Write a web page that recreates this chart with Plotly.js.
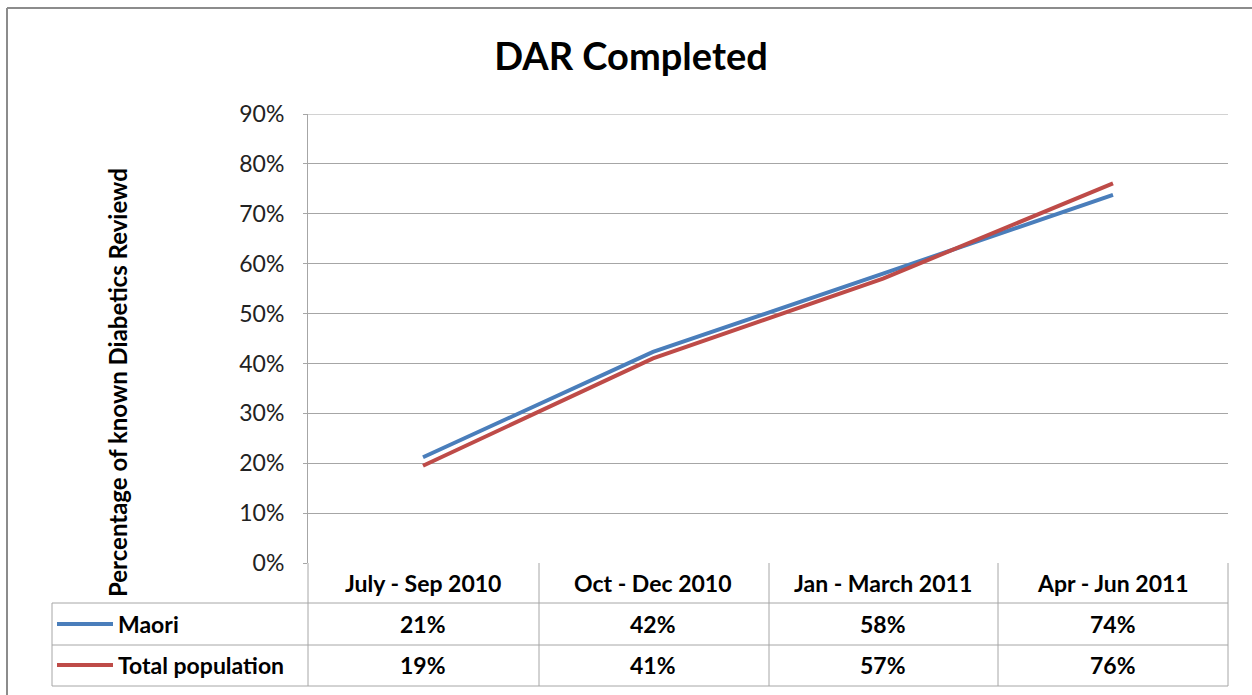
<!DOCTYPE html>
<html>
<head>
<meta charset="utf-8">
<script src="https://cdn.plot.ly/plotly-3.0.1.min.js"></script>
<style>html,body{margin:0;padding:0;background:#fff;}#chart{width:1252px;height:695px;}</style>
</head>
<body>
<div id="chart"></div>
<script>
const categories = ["July - Sep 2010", "Oct - Dec 2010", "Jan - March 2011", "Apr - Jun 2011"];
const seriesNames = ["Maori", "Total population"];
const maori = [0.212, 0.423, 0.58, 0.738];
const totalPop = [0.195, 0.41, 0.57, 0.761];
const maoriLabels = ["21%", "42%", "58%", "74%"];
const totalLabels = ["19%", "41%", "57%", "76%"];
const yTicks = [0, 0.1, 0.2, 0.3, 0.4, 0.5, 0.6, 0.7, 0.8, 0.9];

const W = 1252, H = 695;
const L = 308, R = 1228, T = 114, B = 563;
const px = x => (x - L) / (R - L);
const py = y => (B - y) / (B - T);
const FONT = "Lato, 'Open Sans', sans-serif";
const BLUE = "#4A7EBB", RED = "#BE4B48", GRID = "#A6A6A6";

const xIdx = categories.map((c, i) => i);

const traces = [
  {x: xIdx, y: maori, name: seriesNames[0], mode: "lines", line: {color: BLUE, width: 4}, hoverinfo: "skip"},
  {x: xIdx, y: totalPop, name: seriesNames[1], mode: "lines", line: {color: RED, width: 4}, hoverinfo: "skip"}
];

const shapes = [];
const line = (x0, y0, x1, y1, color, width) => shapes.push({type: "line", xref: "paper", yref: "paper", x0: px(x0), y0: py(y0), x1: px(x1), y1: py(y1), line: {color: color || GRID, width: width || 1}});

// outer chart border (top and left edges visible)
line(7, 8, 1252, 8, "#8C8C8C", 2);
line(7, 8, 7, 695, "#8C8C8C", 2);
// table lines
line(52, 603, R, 603);
line(52, 645, R, 645);
line(52, 686, R, 686);
line(52, 603, 52, 686);
line(L, 563, L, 686);
[539, 769, 998, R].forEach(x => line(x, 563, x, 686));
// legend keys in table
line(57, 624, 113, 624, BLUE, 4);
line(57, 665, 113, 665, RED, 4);

const annotations = [];
const cellFont = {family: FONT, size: 23, color: "#000"};
categories.forEach((c, i) => {
  annotations.push({x: i, xref: "x", y: py(583), yref: "paper", text: "<b>" + c + "</b>", showarrow: false, font: cellFont, xanchor: "center", yanchor: "middle"});
  annotations.push({x: i, xref: "x", y: py(624), yref: "paper", text: "<b>" + maoriLabels[i] + "</b>", showarrow: false, font: cellFont, xanchor: "center", yanchor: "middle"});
  annotations.push({x: i, xref: "x", y: py(665), yref: "paper", text: "<b>" + totalLabels[i] + "</b>", showarrow: false, font: cellFont, xanchor: "center", yanchor: "middle"});
});
annotations.push({x: px(116), xref: "paper", y: py(624), yref: "paper", text: "<b>" + seriesNames[0] + "</b>", showarrow: false, font: cellFont, xanchor: "left", yanchor: "middle"});
annotations.push({x: px(116), xref: "paper", y: py(665), yref: "paper", text: "<b>" + seriesNames[1] + "</b>", showarrow: false, font: cellFont, xanchor: "left", yanchor: "middle"});
// y axis title
annotations.push({x: px(117), xref: "paper", y: py(383), yref: "paper", text: "<b>Percentage of known Diabetics Reviewd</b>", textangle: -90, showarrow: false, font: {family: FONT, size: 24, color: "#000"}, xanchor: "center", yanchor: "middle"});

const layout = {
  width: W, height: H,
  margin: {l: L, r: W - R, t: T, b: H - B, pad: 0},
  paper_bgcolor: "#fff", plot_bgcolor: "#fff",
  showlegend: false,
  title: {text: "<b>DAR Completed</b>", font: {family: FONT, size: 38, color: "#000"}, x: 631 / W, xanchor: "center", y: 1 - 57 / H, yanchor: "middle"},
  xaxis: {range: [-0.5, 3.5], showgrid: false, zeroline: false, showline: false, showticklabels: false, ticks: "", fixedrange: true},
  yaxis: {range: [0, 0.9], tickvals: yTicks, tickformat: ".0%", showgrid: true, gridcolor: GRID, gridwidth: 1, zeroline: false,
          showline: true, linecolor: GRID, linewidth: 1, ticks: "outside", ticklen: 4, tickcolor: GRID,
          tickfont: {family: FONT, size: 23, color: "#222"}, ticklabelstandoff: 14, fixedrange: true},
  shapes: shapes,
  annotations: annotations
};
// top gridline at 90%
shapes.push({type: "line", xref: "paper", yref: "y", x0: 0, x1: 1, y0: 0.9, y1: 0.9, line: {color: GRID, width: 1}});

Plotly.newPlot("chart", traces, layout, {displayModeBar: false, staticPlot: true});
</script>
</body>
</html>
